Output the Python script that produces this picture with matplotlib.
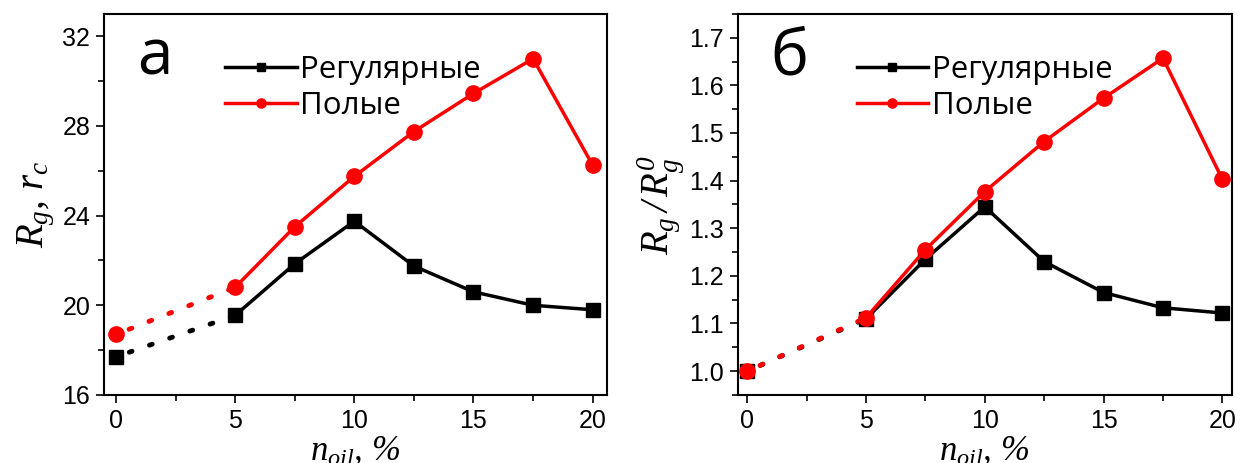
import matplotlib
matplotlib.use("Agg")
import matplotlib.pyplot as plt
from matplotlib.ticker import MultipleLocator

plt.rcParams['font.family'] = ['Liberation Sans', 'DejaVu Sans']
plt.rcParams['mathtext.fontset'] = 'custom'
plt.rcParams['mathtext.it'] = 'Liberation Serif:italic'
plt.rcParams['mathtext.rm'] = 'Liberation Serif:italic'

# data
n_oil = [0, 5, 7.5, 10, 12.5, 15, 17.5, 20]

rg_regular = [17.7, 19.55, 21.85, 23.75, 21.75, 20.6, 20.0, 19.8]
rg_hollow = [18.7, 20.8, 23.5, 25.75, 27.75, 29.45, 31.0, 26.25]

ratio_regular = [1.0, 1.11, 1.235, 1.345, 1.23, 1.165, 1.133, 1.122]
ratio_hollow = [1.0, 1.112, 1.255, 1.377, 1.482, 1.573, 1.657, 1.403]

labels = ['Регулярные', 'Полые']
panel_names = ['а', 'б']

fig = plt.figure(figsize=(12.4, 4.63), dpi=100)
ax1 = fig.add_axes([0.0839, 0.147, 0.4056, 0.823])
ax2 = fig.add_axes([0.595, 0.147, 0.3984, 0.823])


def draw_panel(ax, reg, hol, name):
    # dotted extrapolation to zero
    ax.plot(n_oil[:2], reg[:2], color='black', lw=3.5,
            linestyle=(1.5, (0.6, 3.8)), dash_capstyle='round')
    ax.plot(n_oil[:2], hol[:2], color='red', lw=3.5,
            linestyle=(1.5, (0.6, 3.8)), dash_capstyle='round')
    ax.plot(n_oil[0], reg[0], 's', color='black', ms=10, zorder=3)
    ax.plot(n_oil[0], hol[0], 'o', color='red', ms=11, zorder=3)
    ax.plot(n_oil[1:], reg[1:], '-s', color='black', lw=2.5, ms=10,
            label=labels[0])
    ax.plot(n_oil[1:], hol[1:], '-o', color='red', lw=2.5, ms=11,
            label=labels[1])
    ax.text(0.066, 0.84, name, transform=ax.transAxes, fontsize=46,
            family='Open Sans', va='baseline', ha='left')
    ax.legend(loc='upper left', bbox_to_anchor=(0.215, 0.925),
              frameon=False, prop={'family': 'Open Sans', 'size': 22.5},
              markerscale=0.6, handlelength=2.3, handletextpad=0.1,
              labelspacing=0.2, borderaxespad=0)
    ax.set_xlim(-0.5, 20.6)
    ax.xaxis.set_major_locator(MultipleLocator(5))
    ax.xaxis.set_minor_locator(MultipleLocator(2.5))
    ax.tick_params(which='both', direction='out', top=False, right=False,
                   labelsize=18, width=1.2)
    ax.tick_params(which='major', length=6, pad=4)
    ax.tick_params(which='minor', length=4)
    for s in ax.spines.values():
        s.set_linewidth(1.5)
    ax.set_xlabel(r'$n_{oil},\,\%$', fontsize=25, labelpad=1)


draw_panel(ax1, rg_regular, rg_hollow, panel_names[0])
ax1.set_ylim(16, 33)
ax1.yaxis.set_major_locator(MultipleLocator(4))
ax1.yaxis.set_minor_locator(MultipleLocator(2))
ax1.set_ylabel(r'$R_g,\,r_c$', fontsize=28, labelpad=4)

draw_panel(ax2, ratio_regular, ratio_hollow, panel_names[1])
ax2.set_xlim(-0.4, 20.4)
ax2.set_ylim(0.95, 1.75)
ax2.yaxis.set_major_locator(MultipleLocator(0.1))
ax2.yaxis.set_minor_locator(MultipleLocator(0.05))
ax2.yaxis.set_major_formatter(plt.FormatStrFormatter('%.1f'))
ax2.set_ylabel(r'$R_g\,/\,R_g^0$', fontsize=28, labelpad=2)

fig.savefig('out.png', dpi=100)
